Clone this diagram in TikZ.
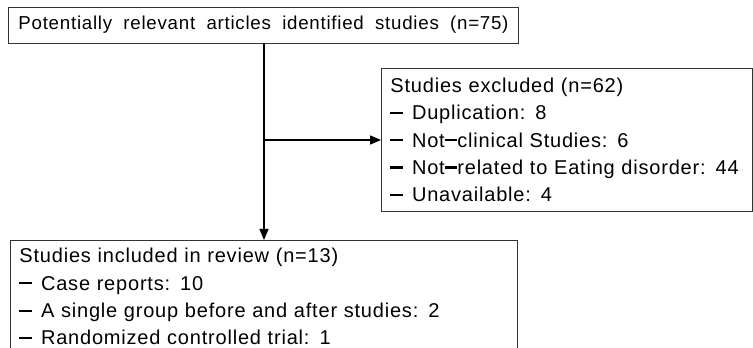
\documentclass[tikz,border=0pt]{standalone}
\usepackage{fontspec}
\setmainfont{Liberation Sans}[LetterSpace=4,WordSpace=1.9]
\usetikzlibrary{arrows.meta,positioning}

\newcommand{\dashbar}{\rule[0.29em]{0.63em}{0.11em}}
\newcommand{\itemmark}{\dashbar\hspace{0.45em}}

\tikzset{
	box/.style={draw=black!80, line width=0.9pt, inner xsep=10pt, inner ysep=6pt, align=left},
	flow/.style={line width=1.4pt, -{Triangle[length=11pt,width=9pt]}}
}

\begin{document}
\begin{tikzpicture}[x=1pt, y=1pt, font=\fontsize{20}{27.3}\selectfont]
	\useasboundingbox (0,0) rectangle (753,348);
	\clip (0,0) rectangle (753,348);

	\node[box, minimum width=509pt, minimum height=36pt, inner ysep=0pt, font=\fontsize{18.7}{24}\selectfont] (found) at (263.5,323) {Potentially relevant articles identified studies (n=75)};
	\node[box, anchor=north west, minimum width=371pt, minimum height=143pt, text width=353pt, inner xsep=9pt] (excl) at (381,280) {Studies excluded (n=62)\\
		\itemmark Duplication: 8\\
		\itemmark Not\dashbar clinical Studies: 6\\
		\itemmark Not\dashbar related to Eating disorder: 44\\
		\itemmark Unavailable: 4};
	\node[box, anchor=north west, minimum width=507pt, text width=489pt, inner xsep=9pt, inner ysep=8pt] (incl) at (10,108) {Studies included in review (n=13)\\
		\itemmark Case reports: 10\\
		\itemmark A single group before and after studies: 2\\
		\itemmark Randomized controlled trial: 1\\
		\strut};

	\coordinate (split) at (264,208);

	\draw[line width=1.4pt] (found.south -| split) -- (split);
	\draw[flow] (split) -- (split -| excl.west);
	\draw[flow] (split) -- (split |- incl.north);
\end{tikzpicture}
\end{document}
